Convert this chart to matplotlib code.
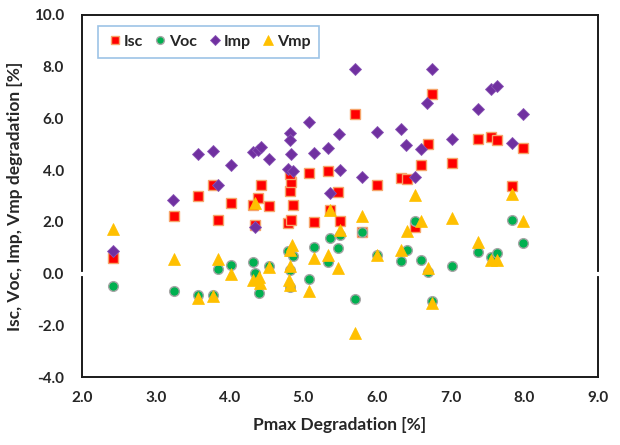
# Isc / Voc / Imp / Vmp degradation vs. Pmax degradation (scatter)

import matplotlib
matplotlib.use("Agg")
import matplotlib.pyplot as plt

### data [%] ###
isc_x = [2.42, 3.25, 3.57, 3.78, 3.85, 4.02, 4.32, 4.35, 4.39, 4.43, 4.54, 4.80, 4.82,
         4.84, 4.82, 4.84, 4.86, 5.08, 5.15, 5.34, 5.36, 5.47, 5.50, 5.70, 5.80, 6.00,
         6.33, 6.41, 6.52, 6.60, 6.69, 6.75, 7.02, 7.37, 7.55, 7.63, 7.83, 7.98]
isc_y = [0.62, 2.22, 3.00, 3.42, 2.09, 2.72, 2.67, 1.86, 2.93, 3.41, 2.60, 1.97, 3.20,
         3.55, 3.87, 2.09, 2.67, 3.89, 2.01, 3.96, 2.47, 3.17, 2.05, 6.16, 1.59, 3.41,
         3.70, 3.67, 1.82, 4.19, 5.00, 6.93, 4.28, 5.22, 5.30, 5.18, 3.38, 4.85]

voc_x = [2.42, 3.25, 3.57, 3.78, 3.85, 4.02, 4.32, 4.35, 4.40, 4.54, 4.80, 4.86, 4.82,
         4.82, 5.08, 5.15, 5.34, 5.36, 5.47, 5.50, 5.70, 5.80, 6.00, 6.33, 6.41, 6.52,
         6.60, 6.69, 6.75, 7.02, 7.37, 7.55, 7.63, 7.83, 7.98]
voc_y = [-0.49, -0.66, -0.84, -0.84, 0.19, 0.35, 0.43, 0.04, -0.77, 0.31, 0.89, 0.69, 0.12,
         -0.50, -0.22, 1.04, 0.46, 1.39, 0.97, 1.51, -0.97, 1.59, 0.70, 0.50, 0.93, 2.05,
         0.54, 0.08, -1.08, 0.31, 0.85, 0.66, 0.81, 2.09, 1.20]

imp_x = [2.42, 3.24, 3.57, 3.78, 3.85, 4.02, 4.32, 4.35, 4.39, 4.43, 4.54, 4.80, 4.82,
         4.82, 4.84, 4.86, 5.08, 5.15, 5.34, 5.37, 5.48, 5.50, 5.70, 5.80, 6.00, 6.33,
         6.39, 6.52, 6.60, 6.68, 6.75, 7.02, 7.37, 7.55, 7.63, 7.83, 7.98]
imp_y = [0.88, 2.83, 4.64, 4.75, 3.44, 4.18, 4.72, 1.80, 4.76, 4.91, 4.45, 4.06, 5.44,
         5.15, 4.64, 3.98, 5.87, 4.68, 4.87, 3.12, 5.41, 4.02, 7.93, 3.74, 5.48, 5.60,
         4.99, 3.74, 4.80, 6.61, 7.93, 5.22, 6.35, 7.15, 7.27, 5.06, 6.19]

vmp_x = [2.42, 3.25, 3.57, 3.78, 3.85, 4.02, 4.34, 4.32, 4.40, 4.41, 4.54, 4.82, 4.85,
         4.82, 4.81, 4.82, 5.08, 5.15, 5.34, 5.36, 5.47, 5.50, 5.70, 5.80, 6.00, 6.33,
         6.41, 6.52, 6.60, 6.69, 6.75, 7.02, 7.37, 7.55, 7.63, 7.83, 7.98]
vmp_y = [1.71, 0.55, -0.93, -0.86, 0.55, -0.03, 2.71, -0.26, -0.15, -0.38, 0.27, 0.92, 1.10,
         0.31, -0.23, -0.46, -0.69, 0.62, 0.70, 2.47, 0.23, 1.70, -2.28, 2.22, 0.70, 0.93,
         1.66, 3.02, 2.05, 0.23, -1.12, 2.13, 1.24, 0.54, 0.54, 3.06, 2.05]

### rcParams ###
FONT = 'Lato'
plt.rcParams['font.family'] = FONT
plt.rcParams['font.weight'] = 'bold'
plt.rcParams['axes.labelweight'] = 'bold'

fig = plt.figure(figsize=(6.2, 4.45), dpi=100)
ax = fig.add_axes([0.1323, 0.1528, 0.8322, 0.8135])

ax.plot(isc_x, isc_y, ls='none', marker='s', ms=7, mfc='#FF0000', mec='#F6A46A', mew=1.0,
        label='Isc', zorder=3)
ax.plot(voc_x, voc_y, ls='none', marker='o', ms=7, mfc='#00B050', mec='#A6A6A6', mew=1.0,
        label='Voc', zorder=4)
ax.plot(imp_x, imp_y, ls='none', marker='D', ms=6, mfc='#7030A0', mec='#8A55B5', mew=0.6,
        label='Imp', zorder=5)
ax.plot(vmp_x, vmp_y, ls='none', marker='^', ms=8.5, mfc='#FFC000', mec='#FFC000', mew=0.5,
        label='Vmp', zorder=6)

ax.set_xlim(2.0, 9.0)
ax.set_ylim(-4.0, 10.0)
ax.set_xticks([2, 3, 4, 5, 6, 7, 8, 9])
ax.set_yticks([-4, -2, 0, 2, 4, 6, 8, 10])
ax.set_xticklabels([f"{v:.1f}" for v in ax.get_xticks()])
ax.set_yticklabels([f"{v:.1f}" for v in ax.get_yticks()])
ax.tick_params(axis='both', length=0, labelsize=11, colors='#262626')
ax.tick_params(axis='x', pad=10)
ax.tick_params(axis='y', pad=13)
for lab in ax.get_xticklabels() + ax.get_yticklabels():
    lab.set_fontweight('bold')

for sp in ax.spines.values():
    sp.set_linewidth(1.4)
    sp.set_color('#1a1a1a')

# white gap in the frame where the horizontal axis crosses y = 0
ax.axhline(0, color='white', lw=3, zorder=2.6, clip_on=False)

ax.set_xlabel("Pmax Degradation [%]", fontsize=12.5, color='#262626', labelpad=9)
ax.set_ylabel("Isc, Voc, Imp, Vmp degradation [%]", fontsize=12.5, color='#262626', labelpad=8)

leg = ax.legend(loc='upper left', bbox_to_anchor=(0.031, 0.97), borderaxespad=0, ncol=4,
                fancybox=False, framealpha=1, edgecolor='#9DC3E6', fontsize=11.5,
                handletextpad=0.05, columnspacing=0.6, handlelength=1.0, markerscale=0.8,
                borderpad=0.55)
leg.get_frame().set_linewidth(1.2)
for t in leg.get_texts():
    t.set_fontweight('bold')
    t.set_color('#262626')

fig.savefig("out.png", dpi=100)
